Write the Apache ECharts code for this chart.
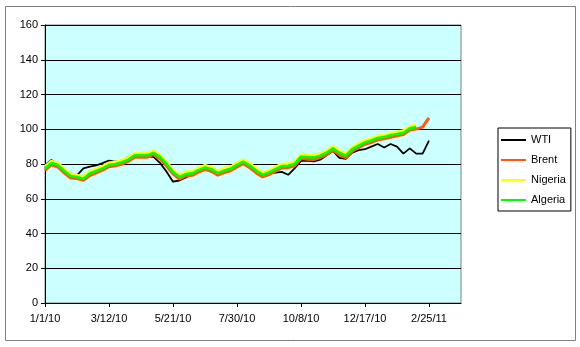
<!DOCTYPE html>
<html>
<head>
<meta charset="utf-8">
<script src="https://cdn.jsdelivr.net/npm/echarts@6/dist/echarts.min.js"></script>
<style>
html,body{margin:0;padding:0;background:#fff;}
#c{width:580px;height:347px;}
</style>
</head>
<body>
<div id="c"></div>
<script>
var categories = [
'1/1/10','1/8/10','1/15/10','1/22/10','1/29/10','2/5/10','2/12/10','2/19/10','2/26/10','3/5/10',
'3/12/10','3/19/10','3/26/10','4/2/10','4/9/10','4/16/10','4/23/10','4/30/10','5/7/10','5/14/10',
'5/21/10','5/28/10','6/4/10','6/11/10','6/18/10','6/25/10','7/2/10','7/9/10','7/16/10','7/23/10',
'7/30/10','8/6/10','8/13/10','8/20/10','8/27/10','9/3/10','9/10/10','9/17/10','9/24/10','10/1/10',
'10/8/10','10/15/10','10/22/10','10/29/10','11/5/10','11/12/10','11/19/10','11/26/10','12/3/10','12/10/10',
'12/17/10','12/24/10','12/31/10','1/7/11','1/14/11','1/21/11','1/28/11','2/4/11','2/11/11','2/18/11',
'2/25/11','3/4/11','3/11/11','3/18/11','3/25/11','4/1/11'
];
var wti = [79.5,82.3,80.0,77.0,74.0,73.5,77.5,78.5,79.2,80.5,
82.0,81.3,82.0,84.0,85.5,84.5,84.5,84.0,80.5,75.5,
69.8,70.5,72.3,74.0,76.0,77.0,75.5,74.5,75.8,77.0,
79.0,80.8,78.3,75.5,73.5,74.5,75.0,75.5,73.8,77.5,
81.8,82.0,81.5,82.5,85.0,87.5,83.5,83.0,86.5,88.0,
88.5,90.0,91.5,89.5,91.5,90.0,86.0,89.0,86.0,86.0,
93.5];
var brent = [76.4,79.5,78.3,74.9,71.9,71.6,70.6,73.3,74.9,76.5,
78.4,79.0,79.9,81.5,83.9,83.9,83.9,85.5,82.9,78.8,
74.3,71.3,73.1,73.5,75.3,76.8,75.9,73.6,75.0,76.1,
78.3,80.2,77.8,74.9,72.6,73.9,75.9,77.7,77.9,78.9,
83.1,82.8,82.6,83.7,85.4,87.9,85.3,83.6,87.3,89.4,
91.4,92.4,93.9,94.5,95.4,96.2,96.9,99.5,100.1,101.2,
106.6];
var nigeria = [78.6,81.6,80.6,77.2,74.2,73.6,72.6,75.6,77.1,78.6,
80.6,81.1,82.2,83.6,86.1,86.1,86.2,87.6,85.1,81.1,
76.6,73.6,75.4,75.7,77.6,79.2,78.1,75.9,77.4,78.3,
80.6,82.4,80.2,77.4,74.9,76.2,78.2,79.9,80.1,81.2,
85.3,85.1,84.9,85.9,87.6,90.2,87.6,85.9,89.6,91.6,
93.6,94.6,96.1,96.6,97.6,98.4,99.1,101.6,102.3];
var algeria = [77.4,80.6,79.5,76.1,73.1,72.5,71.5,74.5,76.0,77.5,
79.5,80.0,81.0,82.5,85.0,85.0,85.1,86.5,84.0,80.0,
75.5,72.5,74.2,74.6,76.5,78.0,77.0,74.8,76.2,77.2,
79.5,81.3,79.1,76.2,73.8,75.1,77.0,78.8,79.0,80.1,
84.2,84.0,83.8,84.8,86.5,89.0,86.5,84.8,88.5,90.5,
92.5,93.5,95.0,95.5,96.5,97.2,98.0,100.5,101.3];
var seriesNames = ['WTI','Brent','Nigeria','Algeria'];
var seriesColors = ['#000000','#FF5A14','#FFFF00','#00FF00'];
var yTicks = {min:0, max:160, interval:20};

var chart = echarts.init(document.getElementById('c'), null, {renderer:'canvas'});
var font = 'Arial, "Liberation Sans", sans-serif';
var dataList = [wti, brent, nigeria, algeria];
var widths = [1.8, 3, 3, 2.6];
var series = seriesNames.map(function(n, k){
  return {
    name: n, type: 'line', data: dataList[k], showSymbol: false, symbol: 'none',
    lineStyle: {color: seriesColors[k], width: widths[k]},
    itemStyle: {color: seriesColors[k]},
    z: 2 + k, animation: false
  };
});
chart.setOption({
  animation: false,
  graphic: [{type:'rect', shape:{x:5.5, y:6.5, width:570, height:334}, style:{fill:'none', stroke:'#808080', lineWidth:1}, z:-1}],
  grid: {left:45, right:119, top:25, bottom:44, show:true, backgroundColor:'#CCFFFF', borderColor:'#808080', borderWidth:1},
  legend: {
    orient:'vertical', left:498, top:128, data: seriesNames.map(function(n,k){return {name:n, icon:'rect', itemStyle:{color:seriesColors[k]}};}),
    itemWidth:25, itemHeight:2, itemGap:6,
    padding:[5,5,4,3], borderColor:'#000', borderWidth:1, backgroundColor:'#fff',
    textStyle:{fontFamily:font, fontSize:11, color:'#000', lineHeight:14}
  },
  xAxis: {
    type:'category', data: categories, boundaryGap:false,
    axisLine:{show:true, lineStyle:{color:'#000', width:1}},
    axisTick:{show:true, interval:9, length:4, inside:false, lineStyle:{color:'#000'}},
    axisLabel:{interval:9, fontFamily:font, fontSize:11, color:'#000', margin:10},
    splitLine:{show:false}
  },
  yAxis: {
    type:'value', min:yTicks.min, max:yTicks.max, interval:yTicks.interval,
    axisLine:{show:true, lineStyle:{color:'#000', width:1}},
    axisTick:{show:true, length:4, lineStyle:{color:'#000'}},
    axisLabel:{fontFamily:font, fontSize:11, color:'#000', margin:7},
    splitLine:{show:true, lineStyle:{color:'#000', width:1}}
  },
  series: series
});
</script>
</body>
</html>
